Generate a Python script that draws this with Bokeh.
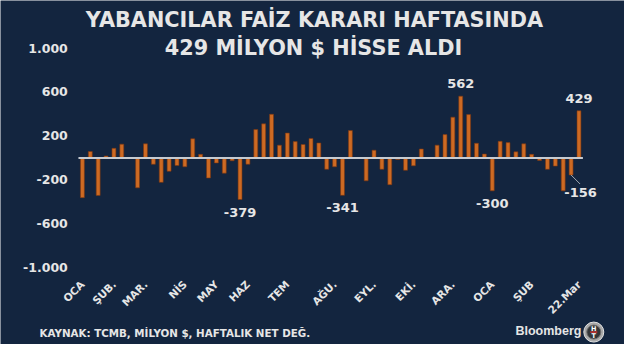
from math import pi
from bokeh.plotting import figure
from bokeh.models import Range1d, Label
from bokeh.core.properties import value
from bokeh.embed import file_html
from bokeh.resources import INLINE

# ---- data (weekly net foreign equity flows, million $) ----
weeks = list(range(64))
flows = [-362, 58, -342, 17, 87, 125, 0, -273, 128, -58, -223, -122, -70, -81, 174, 32,
         -183, -46, -139, -26, -379, -58, 258, 310, 397, 116, 226, 148, 122, 177, 136,
         -104, -81, -341, 249, 0, -209, 70, -104, -244, -15, -113, -72, 81, 0, 116, 212,
         371, 562, 394, 133, 35, -300, 151, 139, 55, 128, 32, -23, -104, -75, -300, -156, 429]
month_pos = [0, 4, 8, 13, 17, 21, 26, 32, 37, 42, 47, 52, 57, 63]
month_labels = ["OCA", "ŞUB.", "MAR.", "NİS", "MAY", "HAZ", "TEM", "AĞU.", "EYL.",
                "EKİ.", "ARA.", "OCA", "ŞUB", "22.Mar"]
y_ticks = [1000, 600, 200, -200, -600, -1000]
y_labels = ["1.000", "600", "200", "-200", "-600", "-1.000"]
ann_idx = [20, 33, 48, 52, 62, 63]

title1 = "YABANCILAR FAİZ KARARI HAFTASINDA"
title2 = "429 MİLYON $ HİSSE ALDI"
source = "KAYNAK: TCMB, MİLYON $, HAFTALIK NET DEĞ."

# ---- styling / layout ----
BG = "#13253F"
TXT = "#E6E6E6"
BAR = "#CD6A23"
FONT = "DejaVu Sans"

W, H = 624, 344
SX, SY = W / 640.0, H / 360.0          # reference-pixel -> figure-pixel

slot0_px = 84 * SX
px_per_slot = (593.3 - 84) * SX / 63
x0 = -slot0_px / px_per_slot
x1 = x0 + W / px_per_slot
zero_px = 164.7 * SY
units_per_px = 8.7 / SY
y_top = zero_px * units_per_px
y_bot = y_top - H * units_per_px


def xdata(rx):
    return x0 + rx * SX / px_per_slot


def ydata(ry):
    return y_top - ry * SY * units_per_px


p = figure(width=W, height=H, output_backend="svg", toolbar_location=None,
           x_range=Range1d(x0, x1), y_range=Range1d(y_bot, y_top),
           min_border_left=0, min_border_right=0, min_border_top=0, min_border_bottom=0,
           background_fill_color=BG, border_fill_color=BG, outline_line_color=None)
p.xgrid.grid_line_color = None
p.ygrid.grid_line_color = None
p.xaxis.visible = False
p.yaxis.visible = False

# y tick labels
p.text(x=[xdata(69)] * len(y_ticks), y=y_ticks, text=y_labels, text_align="right",
       text_baseline="middle", text_font=value(FONT), text_font_style="bold",
       text_font_size="12.5px", text_color=TXT)

# x tick labels (rotated)
p.text(x=month_pos, y=[ydata(295)] * len(month_pos), text=month_labels, angle=pi / 4,
       text_align="right", text_baseline="middle", text_font=value(FONT),
       text_font_style="bold", text_font_size="10.5px", text_color=TXT)

# bars
p.vbar(x=weeks, top=flows, bottom=0, width=0.5, fill_color=BAR,
       line_color="#7A3510", line_width=0.6)

# zero line spanning the bars
p.line(x=[weeks[0] - 0.5, weeks[-1] + 0.5], y=[0, 0], line_color="#C6CBD1", line_width=2)

# value labels
ax, ay, at = [], [], []
for i in ann_idx:
    v = flows[i]
    dx = 0.0
    gap = 12.5
    if i == 62:
        dx = 9.5 / px_per_slot
        gap = 17.5
    ax.append(weeks[i] + dx)
    ay.append(v + (gap if v > 0 else -gap) * units_per_px)
    at.append(str(v))
p.text(x=ax, y=ay, text=at, text_align="center", text_baseline="middle",
       text_font=value(FONT), text_font_style="bold", text_font_size="13px",
       text_color=TXT)
# leader line for -156
p.segment(x0=[weeks[62]], y0=[flows[62]], x1=[weeks[62] + 9 / px_per_slot],
          y1=[flows[62] - 9 * units_per_px], line_color="#A0A8B2", line_width=1)


def lab(text, rx, ry, size, align="center", color=TXT, font=FONT, style="bold"):
    """Place a text at reference pixel (rx, ry) in frame-relative screen units."""
    p.add_layout(Label(x=rx * SX, y=H - ry * SY, x_units="screen",
                       y_units="screen", text=text, text_align=align,
                       text_baseline="middle", text_font=font, text_font_style=style,
                       text_font_size=size, text_color=color))


lab(title1, 322, 20, "20.8px")
lab(title2, 321, 50, "20.8px")
lab(source, 40, 348, "10.3px", align="left")
lab("Bloomberg", 562, 346, "12.5px", font="Liberation Sans")

# HT logo (badge)
logo_x, logo_y = xdata(608.5), ydata(347)
p.scatter(x=[logo_x], y=[logo_y], size=20, marker="circle", fill_color="#A9A9A9",
          line_color="#E2E2E2", line_width=1)
p.scatter(x=[logo_x], y=[logo_y], size=14, marker="circle", fill_color="#333538",
          line_color="#6E6E6E", line_width=1)
lab("H", 608.5, 343.5, "6.5px", color="#FFFFFF")
lab("T", 608.5, 351, "6.5px", color="#FFFFFF")
p.scatter(x=[logo_x], y=[logo_y], size=7, marker="dash", line_color="#D03030",
          line_width=1.5)

open("out.html", "w").write(file_html(p, INLINE))
